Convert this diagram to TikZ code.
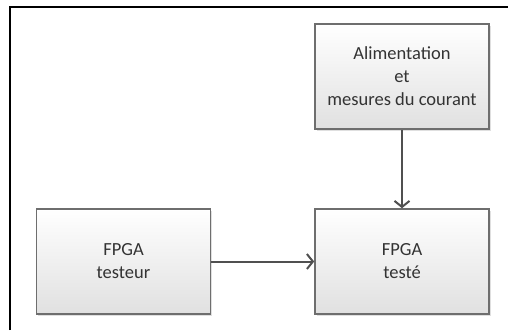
\documentclass[tikz,border=0pt]{standalone}
\usepackage{fontspec}
\setmainfont{Carlito}
\usetikzlibrary{arrows.meta,shadows}
\definecolor{boxline}{HTML}{6E6E6E}
\definecolor{boxtext}{HTML}{333333}
\definecolor{arrowcol}{HTML}{505050}
\tikzset{
  blockbox/.style={draw=boxline, line width=1.6bp, top color=white, bottom color=black!12,
    text=boxtext, align=center, minimum width=174bp, minimum height=105bp, inner sep=0pt,
    font=\fontsize{18.5bp}{23bp}\selectfont,
    drop shadow={shadow xshift=1.5bp, shadow yshift=-1.5bp, opacity=0.25}},
  link/.style={draw=arrowcol, line width=2bp, -{Straight Barb[length=6bp,width=15bp,line width=2bp]}}
}
\begin{document}
\begin{tikzpicture}[x=1bp,y=-1bp]
\useasboundingbox (0,0) rectangle (508,330);
\fill[white] (0,0) rectangle (508,330);
\draw[black, line width=2bp] (10,330) -- (10,7) -- (508,7);
\node[blockbox] (alim) at (402,76.5) {Alimentation\\et\\mesures du courant};
\node[blockbox] (testeur) at (123.5,261.5) {FPGA\\testeur};
\node[blockbox] (teste) at (402,261.5) {FPGA\\testé};
\draw[link] (alim) -- (teste);
\draw[link] (testeur) -- (teste);
\end{tikzpicture}
\end{document}
